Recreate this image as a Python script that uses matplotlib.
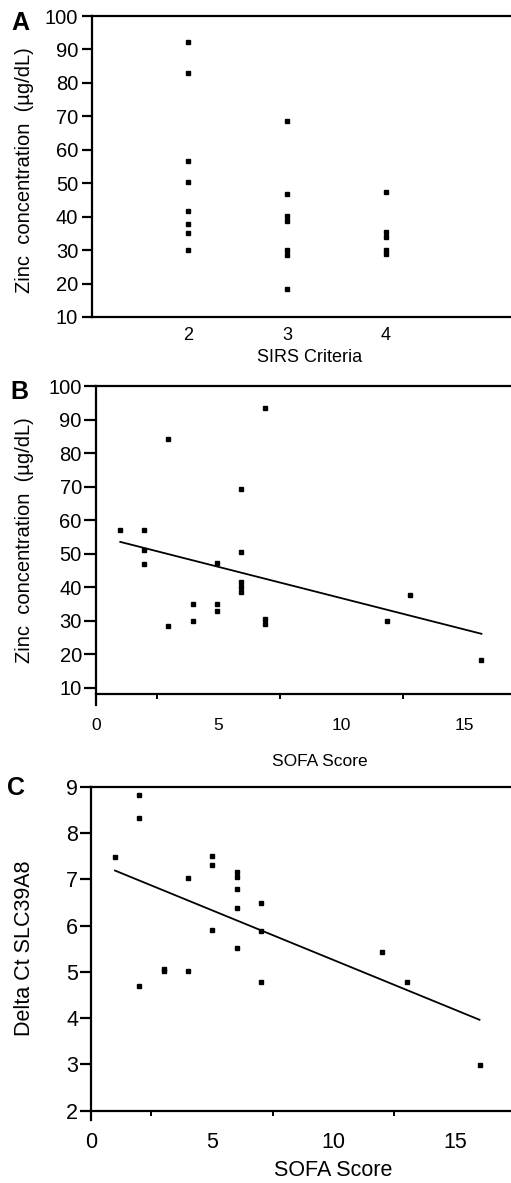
import matplotlib
matplotlib.use("Agg")
import matplotlib.pyplot as plt
import numpy as np

plt.rcParams["font.family"] = ["Liberation Sans", "DejaVu Sans"]

W, H = 511, 1183

# panel A: zinc by SIRS criteria
sirs_2 = [92.3, 83.0, 56.5, 50.5, 41.7, 37.7, 35.2, 30.1]
sirs_3 = [68.6, 46.8, 40.2, 38.7, 29.9, 28.4, 18.5]
sirs_4 = [47.3, 35.4, 33.9, 30.1, 28.8]
sirs_levels = [2, 3, 4]

# panel B: zinc vs SOFA
sofa_b = [1, 1.95, 1.95, 1.95, 2.95, 2.95, 3.95, 3.95, 4.95, 4.95, 4.95,
          5.9, 5.9, 5.9, 5.9, 5.9, 6.9, 6.9, 6.9, 11.85, 12.8, 15.7]
zinc_b = [57.0, 57.0, 51.0, 46.8, 84.1, 28.4, 35.0, 29.9, 47.2, 35.0, 32.8,
          69.3, 50.4, 41.5, 40.0, 38.5, 93.4, 30.5, 29.1, 29.9, 37.6, 18.2]

# panel C: delta Ct vs SOFA
sofa_c = [1, 2, 2, 2, 3, 3, 4, 4, 5, 5, 5, 6, 6, 6, 6, 6, 7, 7, 7, 12, 13, 16]
dct_c = [7.49, 8.82, 8.32, 4.70, 5.06, 5.01, 7.03, 5.01, 7.50, 7.31, 5.90,
         7.15, 7.04, 6.79, 6.37, 5.52, 6.48, 5.89, 4.78, 5.42, 4.78, 2.99]


def rect(left, top, right, bottom):
    return [left / W, 1 - bottom / H, (right - left) / W, (bottom - top) / H]


def fx(x):
    return x / W


def fy(y):
    return 1 - y / H


def style(ax, lw=1.6):
    ax.spines["right"].set_visible(False)
    for s in ["left", "top", "bottom"]:
        ax.spines[s].set_linewidth(lw)


fig = plt.figure(figsize=(W / 100, H / 100), dpi=100)

# ---- A
axA = fig.add_axes(rect(92, 16, 560, 317))
style(axA)
for lev, vals in zip(sirs_levels, [sirs_2, sirs_3, sirs_4]):
    axA.plot([lev] * len(vals), vals, "s", color="black", markersize=2.6)
axA.set_xlim(2 - 96 / 99, 4 + 174 / 99)
axA.set_ylim(10, 100)
axA.set_yticks(range(10, 101, 10))
axA.set_xticks(sirs_levels)
axA.tick_params(axis="y", length=7, width=1.6, pad=3, labelsize=14.5)
axA.tick_params(axis="x", length=0, pad=7, labelsize=13)
fig.text(fx(25), fy(170), "Zinc  concentration  (\u00b5g/dL)", rotation=90,
         ha="center", va="center", fontsize=14.5)
fig.text(fx(310), fy(358), "SIRS Criteria", ha="center", va="center", fontsize=13)
fig.text(fx(20), fy(23), "A", ha="center", va="center", fontsize=18, fontweight="bold")

# ---- B
axB = fig.add_axes(rect(95.7, 386, 560, 694))
style(axB)
axB.plot(sofa_b, zinc_b, "s", color="black", markersize=2.6)
kb = np.polyfit(sofa_b, zinc_b, 1)
xb = np.array([min(sofa_b), max(sofa_b)])
axB.plot(xb, np.polyval(kb, xb), color="black", linewidth=1.3)
axB.set_xlim(0, (560 - 95.7) / 24.57)
axB.set_ylim(8.1, 100)
axB.set_yticks(range(10, 101, 10))
axB.set_xticks([0, 5, 10, 15])
axB.set_xticks([2.5, 7.5, 12.5], minor=True)
axB.spines["left"].set_bounds(4.8, 100)
axB.tick_params(axis="y", length=9, width=1.6, pad=1, labelsize=14.5)
axB.tick_params(axis="x", which="major", length=0, pad=17, labelsize=12.5)
axB.tick_params(axis="x", which="minor", length=3.8, width=1.4)
fig.text(fx(25), fy(540), "Zinc  concentration  (\u00b5g/dL)", rotation=90,
         ha="center", va="center", fontsize=14.5)
fig.text(fx(320), fy(762), "SOFA Score", ha="center", va="center", fontsize=12.5)
fig.text(fx(19), fy(392), "B", ha="center", va="center", fontsize=18, fontweight="bold")

# ---- C
axC = fig.add_axes(rect(90.7, 786.7, 560, 1110.7))
style(axC)
axC.plot(sofa_c, dct_c, "s", color="black", markersize=2.6)
kc = np.polyfit(sofa_c, dct_c, 1)
xc = np.array([min(sofa_c), max(sofa_c)])
axC.plot(xc, np.polyval(kc, xc), color="black", linewidth=1.3)
axC.set_xlim(0, (560 - 90.7) / 24.3)
axC.set_ylim(2, 9)
axC.set_yticks(range(2, 10))
axC.set_xticks([0, 5, 10, 15])
axC.set_xticks([2.5, 7.5, 12.5], minor=True)
axC.spines["left"].set_bounds(1.8, 9)
axC.tick_params(axis="y", length=8, width=1.6, pad=1, labelsize=15.5)
axC.tick_params(axis="x", which="major", length=0, pad=15, labelsize=15.5)
axC.tick_params(axis="x", which="minor", length=3.8, width=1.4)
fig.text(fx(25), fy(948), "Delta Ct SLC39A8", rotation=90,
         ha="center", va="center", fontsize=15.5)
fig.text(fx(333), fy(1170), "SOFA Score", ha="center", va="center", fontsize=15.5)
fig.text(fx(16), fy(788), "C", ha="center", va="center", fontsize=18, fontweight="bold")

fig.savefig("out.png", dpi=100)
